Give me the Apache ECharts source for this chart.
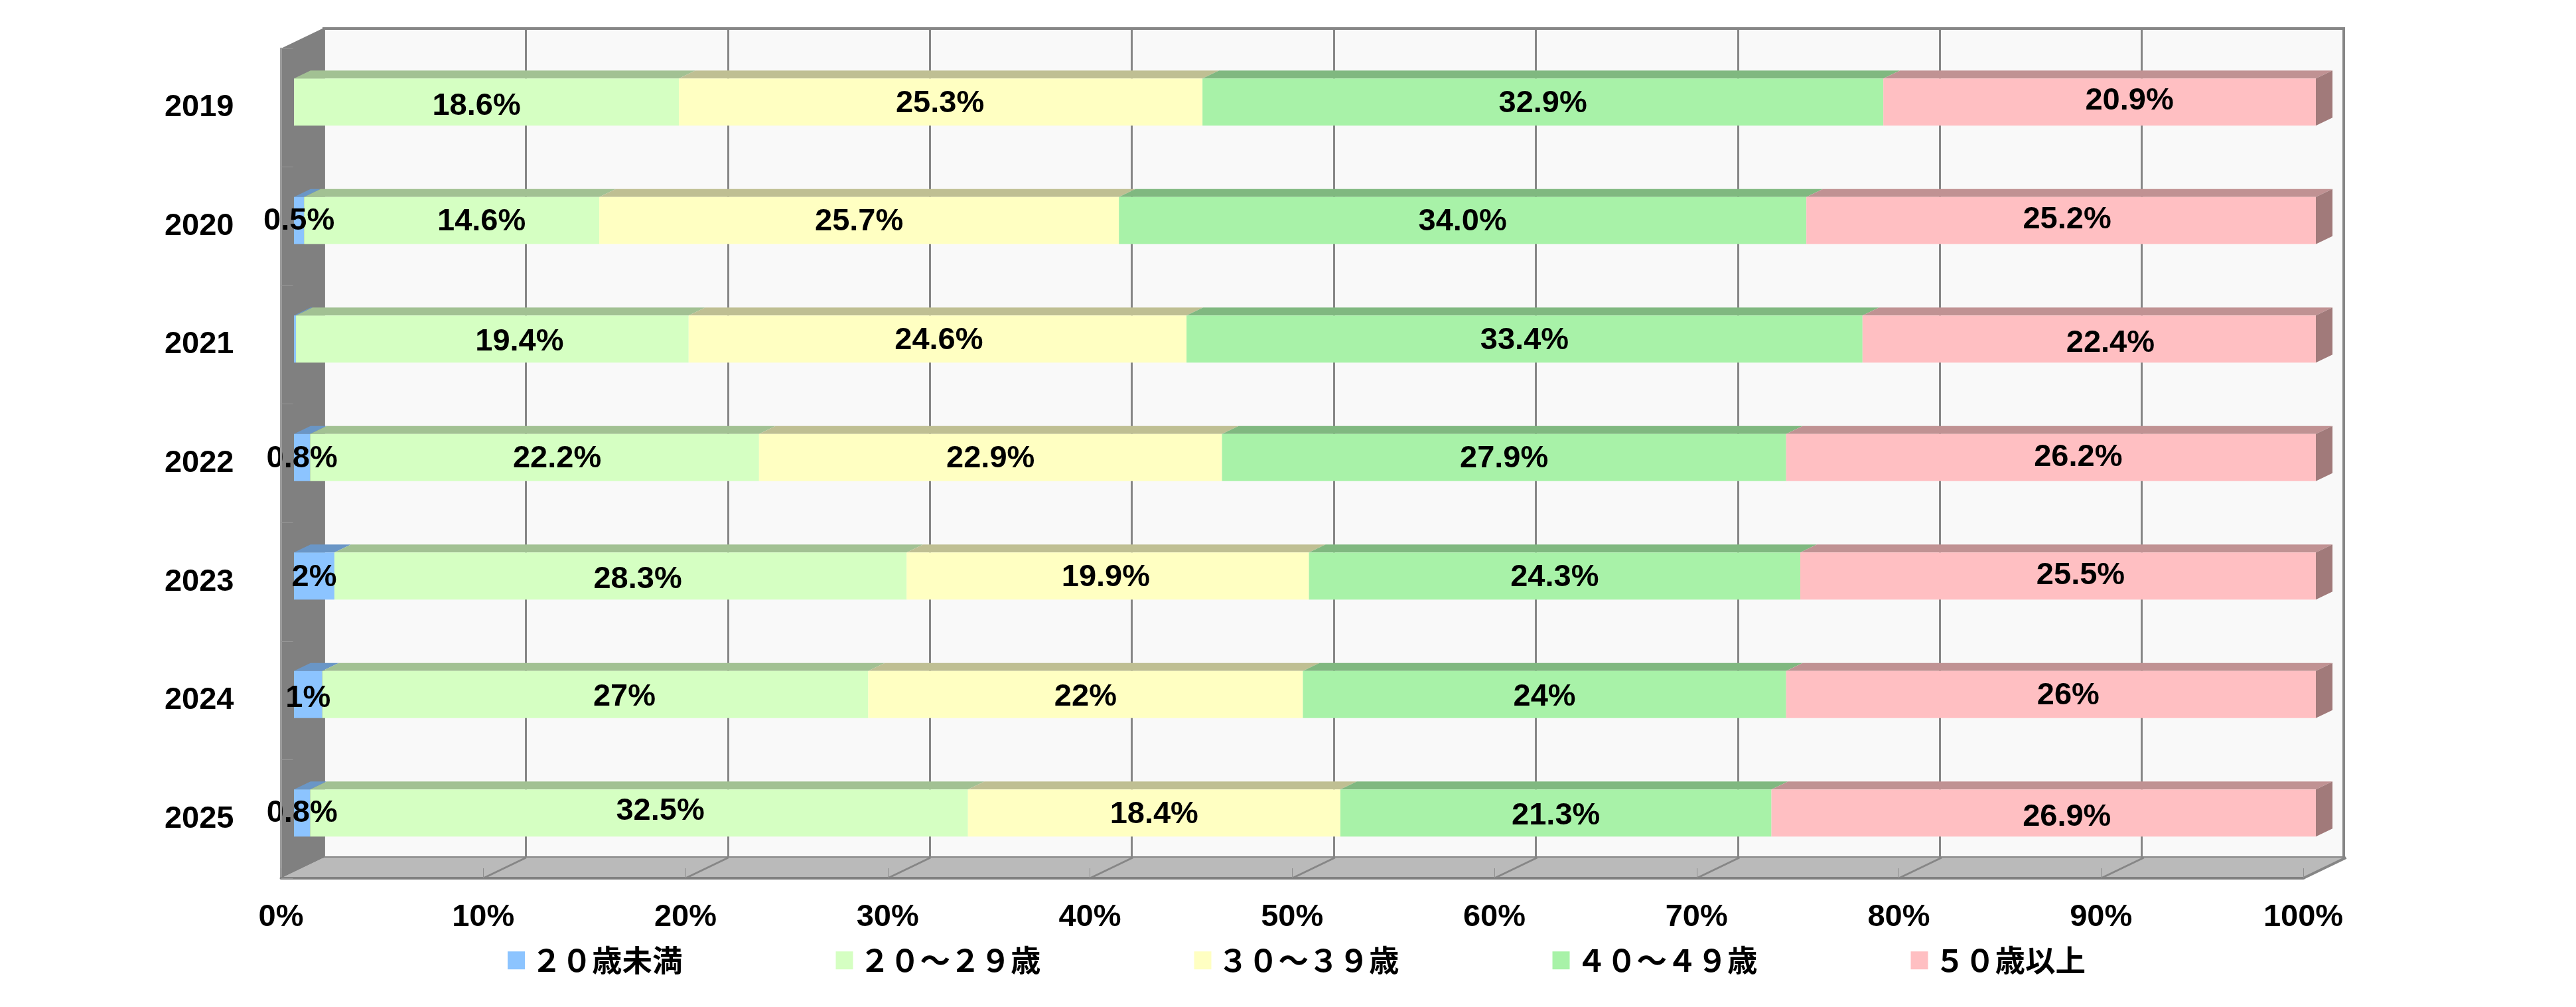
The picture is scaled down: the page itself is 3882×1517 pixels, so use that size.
<!DOCTYPE html>
<html><head><meta charset="utf-8">
<style>html,body{margin:0;padding:0;background:#fff}#c{width:3882px;height:1517px}</style>
<script src="https://cdn.jsdelivr.net/npm/echarts@6/dist/echarts.min.js"></script>
</head><body><div id="c"></div>
<script>
const years = ['2019','2020','2021','2022','2023','2024','2025'];
const seriesNames = ['２０歳未満','２０～２９歳','３０～３９歳','４０～４９歳','５０歳以上'];
// plotted values (2024, its labels are rounded)
const under20 = [0,0.5,0.1,0.8,2,1.4,0.8];
const age20s = [18.6,14.6,19.4,22.2,28.3,27,32.5];
const age30s = [25.3,25.7,24.6,22.9,19.9,21.5,18.4];
const age40s = [32.9,34.0,33.4,27.9,24.3,23.9,21.3];
const age50s = [20.9,25.2,22.4,26.2,25.5,26.2,26.9];
// label text as printed
const under20Text = ['','0.5%','','0.8%','2%','1%','0.8%'];
const age20sText = ['18.6%','14.6%','19.4%','22.2%','28.3%','27%','32.5%'];
const age30sText = ['25.3%','25.7%','24.6%','22.9%','19.9%','22%','18.4%'];
const age40sText = ['32.9%','34.0%','33.4%','27.9%','24.3%','24%','21.3%'];
const age50sText = ['20.9%','25.2%','22.4%','26.2%','25.5%','26%','26.9%'];
const xTicks = [0,10,20,30,40,50,60,70,80,90,100];

const frontColors = ['#8CC4FF','#D5FFC2','#FFFFC2','#A8F2A8','#FFBFC2'];
const topColors = ['#6A96C6','#A2C193','#BFBF93','#80B880','#C09293'];
const sideColor = '#A17A7A';
// hand-placed label nudges of the original chart [dx, dy]
const nudgeU20 = [[0,0],[0,-1],[0,0],[0,0],[0,0],[0,4],[0,-2]];
const nudge20 = [[-15,4],[45,0],[41,2],[34,0],[26,3],[44,2],[32,-5]];
const nudge30 = [[-1,0],[0,0],[2,0],[0,0],[-3,0],[0,2],[0,0]];
const nudge40 = [[0,0],[0,0],[0,0],[0,0],[0,0],[0,2],[0,2]];
const nudge50 = [[45,-4],[9,-3],[32,4],[41,-2],[34,-3],[26,0],[35,4]];

const textFont = '"Liberation Sans","Noto Sans CJK JP"';
const cjkFont = '"Noto Sans CJK JP"';
const values = [under20,age20s,age30s,age40s,age50s];
const texts = [under20Text,age20sText,age30sText,age40sText,age50sText];
const nudges = [nudgeU20,nudge20,nudge30,nudge40,nudge50];
const totals = years.map((_,i)=>values.reduce((s,a)=>s+a[i],0));
const share = (k,i)=>values[k][i]/totals[i]*100;

const BAR_H = 71, BX = 25, BY = 12, DX = 64.5, DY = 31, LABEL_SIZE = 47;
const GRAY = '#868686';

const bars = values.map((arr,k)=>({
  name: seriesNames[k], type:'bar', stack:'all', xAxisIndex:2, yAxisIndex:2, barWidth:BAR_H, z:4,
  itemStyle:{color:frontColors[k]},
  data: arr.map((s,i)=>({
    value: share(k,i),
    label:{show:texts[k][i]!=='', formatter:texts[k][i], offset:[nudges[k][i][0],nudges[k][i][1]+2]}
  })),
  label:{position:'inside',color:'#000',fontFamily:textFont,fontSize:LABEL_SIZE,fontWeight:'bold',overflow:'none'}
}));

const faceData = [];
years.forEach((_,i)=>{let c=0;values.forEach((a,k)=>{const w=share(k,i);if(w>0)faceData.push([c,c+w,i,k]);c+=w;});});

const faces = {
  type:'custom', xAxisIndex:2, yAxisIndex:2, z:3, silent:true, clip:false, data:faceData,
  encode:{x:[0,1],y:2}, legendHoverLink:false,
  renderItem(p,api){
    const a=api.coord([api.value(0),api.value(2)]), b=api.coord([api.value(1),api.value(2)]);
    const k=api.value(3), t=a[1]-BAR_H/2, bot=a[1]+BAR_H/2;
    const kids=[{type:'polygon',shape:{points:[[a[0],t],[b[0],t],[b[0]+BX,t-BY],[a[0]+BX,t-BY]]},style:{fill:topColors[k]}}];
    if(k===4)kids.push({type:'polygon',shape:{points:[[b[0],t],[b[0]+BX,t-BY],[b[0]+BX,bot-BY],[b[0],bot]]},style:{fill:sideColor}});
    return {type:'group',children:kids};
  }
};

const cabinet = {
  type:'custom', xAxisIndex:1, yAxisIndex:1, z:2, silent:true, clip:false,
  data:xTicks.map(v=>[v]), encode:{x:0}, legendHoverLink:false,
  renderItem(p,api){
    const g=p.coordSys, bot=g.y+g.height, v=api.value(0), x=api.coord([v,0])[0], kids=[];
    if(p.dataIndex===0){
      kids.push({type:'polygon',shape:{points:[[g.x,bot],[g.x+g.width,bot],[g.x+g.width+DX,bot-DY],[g.x+DX,bot-DY]]},style:{fill:'#BABABA'}});
      kids.push({type:'polygon',shape:{points:[[g.x,g.y],[g.x+DX,g.y-DY],[g.x+DX,bot-DY],[g.x,bot]]},style:{fill:'#808080'}});
    }
    if(v>0)kids.push({type:'line',shape:{x1:x,y1:bot,x2:x+DX,y2:bot-DY},style:{stroke:GRAY,lineWidth:v===100?4:3}});
    return {type:'group',children:kids};
  }
};

const option = {
  backgroundColor:'#fff', animation:false,
  textStyle:{fontFamily:textFont},
  legend:{
    left:760, top:1419, itemWidth:26, itemHeight:27, itemGap:231, icon:'rect', selectedMode:false,
    data:seriesNames, textStyle:{fontFamily:cjkFont,fontSize:45.5,fontWeight:'bold',color:'#000',padding:[0,0,0,5]}
  },
  grid:[
    {left:488,width:3044,top:43,height:1249,show:true,backgroundColor:'#F9F9F9',borderColor:GRAY,borderWidth:4,containLabel:false},
    {left:423.5,width:3047.5,top:73,height:1250,containLabel:false},
    {left:443,width:3047,top:64.5,height:1249.5,containLabel:false}
  ],
  xAxis:[
    {gridIndex:0,type:'value',min:0,max:100,interval:10,axisLabel:{show:false},axisTick:{show:false},axisLine:{show:false},splitLine:{show:true,lineStyle:{color:GRAY,width:3}}},
    {gridIndex:1,type:'value',min:0,max:100,interval:10,z:10,
      axisLabel:{show:true,formatter:'{value}%',color:'#000',fontFamily:textFont,fontSize:LABEL_SIZE,fontWeight:'bold',margin:36},
      axisTick:{show:true,inside:true,length:15,lineStyle:{color:'#8E8E8E',width:1}},
      axisLine:{show:true,lineStyle:{color:'#808080',width:4}},splitLine:{show:false}},
    {gridIndex:2,type:'value',min:0,max:100,show:false,splitLine:{show:false}}
  ],
  yAxis:[
    {gridIndex:0,type:'category',data:years,inverse:true,show:false},
    {gridIndex:1,type:'category',data:years,inverse:true,z:10,
      axisLabel:{color:'#000',fontFamily:textFont,fontSize:LABEL_SIZE,fontWeight:'bold',margin:71,padding:[5,0,0,0]},
      axisTick:{show:true,inside:true,length:18,lineStyle:{color:'#969696',width:1}},
      axisLine:{show:true,lineStyle:{color:'#9C9C9C',width:3}},splitLine:{show:false}},
    {gridIndex:2,type:'category',data:years,inverse:true,show:false}
  ],
  series:[cabinet,faces,...bars]
};
echarts.init(document.getElementById('c'),null,{renderer:'canvas'}).setOption(option);
</script></body></html>
